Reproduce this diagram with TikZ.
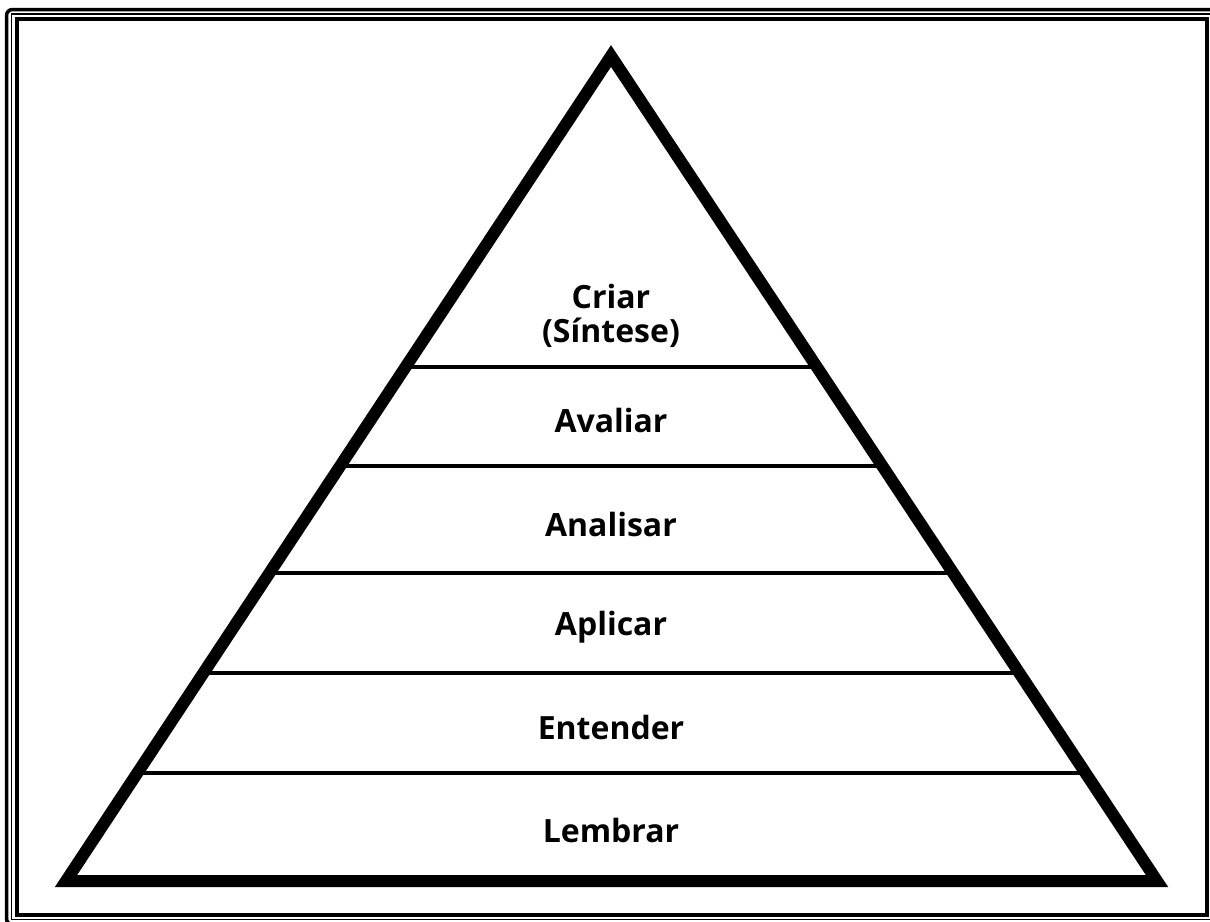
\documentclass[tikz,border=0pt]{standalone}
\usepackage{fontspec}
\setmainfont{Open Sans}
\usetikzlibrary{calc}

\begin{document}
\begin{tikzpicture}[x=1pt,y=-1pt,
      lvl/.style={font=\fontsize{32}{34}\selectfont\bfseries,align=center,inner sep=0pt},
      pyr/.style={line width=12pt,miter limit=20,line join=miter},
      divider/.style={line width=3.5pt}]
    \useasboundingbox (0,0) rectangle (1210,921);
    \begin{scope}
      \clip (0,0) rectangle (1210,921);
      \draw[line width=3.5pt,rounded corners=6pt] (6.5,9.5) rectangle (1216.5,924.5);
      \draw[line width=1.3pt] (11.5,14) rectangle (1211.5,919.5);
      \draw[line width=4pt] (16.5,18.5) rectangle (1207,915);
    \end{scope}
    \coordinate (apex) at (611,56);
    \coordinate (bl) at (66,881);
    \coordinate (br) at (1157,881);
    % level boundaries
    \foreach \yy in {367,466,573,673,773}
      \draw[divider] ($(apex)!{(\yy-56)/825}!(bl)$) -- ($(apex)!{(\yy-56)/825}!(br)$);
    \draw[pyr] (apex) -- (bl) -- (br) -- cycle;
    \node[lvl] (criar) at (611,316) {Criar\\(Síntese)};
    \node[lvl] (avaliar) at (611,420) {Avaliar};
    \node[lvl] (analisar) at (611,524) {Analisar};
    \node[lvl] (aplicar) at (611,627) {Aplicar};
    \node[lvl] (entender) at (611,727) {Entender};
    \node[lvl] (lembrar) at (611,830) {Lembrar};
  \end{tikzpicture}
\end{document}
